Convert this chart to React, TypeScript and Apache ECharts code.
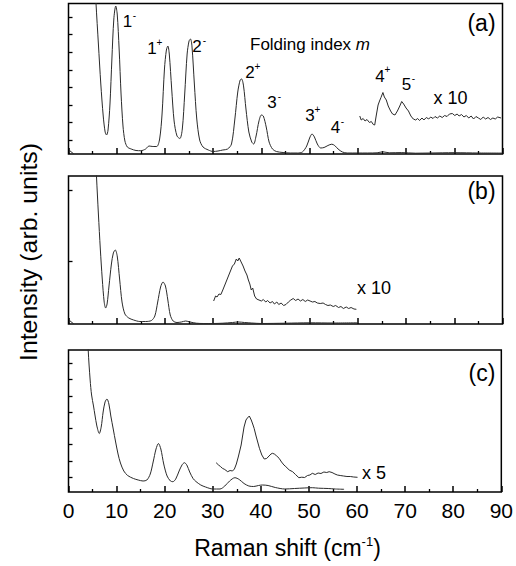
import React, { useEffect, useRef } from 'react';
import * as echarts from 'echarts';

// ---------- data (x: Raman shift cm^-1, y: intensity, arb. units) ----------
const xTickValues = [0, 10, 20, 30, 40, 50, 60, 70, 80, 90];

const spectrumA: [number, number][] = [
  [5.2, 200], [5.7, 151], [6.2, 110], [6.7, 70], [7.2, 38], [7.6, 22], [7.9, 19], [8.2, 24], [8.6, 50],
  [9.0, 95], [9.4, 135], [9.8, 148], [10.1, 140], [10.5, 105], [10.9, 60], [11.3, 28], [11.7, 13],
  [12.2, 7], [13, 5], [14, 3.5], [15, 3.3], [16, 5], [16.7, 8], [17.5, 7.5], [18.3, 7.5], [18.9, 15],
  [19.4, 40], [19.9, 85], [20.3, 104], [20.6, 108], [20.9, 100], [21.4, 65], [21.9, 33], [22.5, 18],
  [23.1, 15.5], [23.6, 25], [24.1, 60], [24.6, 100], [25.0, 113], [25.3, 115], [25.6, 108], [26.1, 70],
  [26.6, 35], [27.2, 14], [27.9, 7], [29, 4], [30, 2.5], [31, 3], [32, 4], [33, 5], [33.8, 10],
  [34.5, 35], [35.1, 62], [35.6, 74], [35.9, 75], [36.3, 68], [36.8, 45], [37.4, 22], [38.0, 12],
  [38.4, 10], [38.9, 18], [39.5, 33], [40.0, 39], [40.4, 38], [41.0, 27], [41.6, 12], [42.3, 5],
  [43.1, 2.5], [44.5, 1.5], [46, 1], [47.5, 1], [48.5, 2], [49.4, 8], [50.0, 16], [50.5, 20],
  [51.0, 17], [51.6, 10], [52.3, 6], [53.0, 6.5], [53.8, 8.5], [54.6, 9.8], [55.2, 8.5], [55.9, 5],
  [56.8, 2], [57.8, 1], [60, 1], [62, 1], [64, 1.2], [65.2, 2.2], [66.5, 1.2], [69, 1.4], [72, 0.8],
  [75, 1.0], [80, 1.3], [85, 1.0], [90, 0.9],
];
const spectrumAx10: [number, number][] = [
  [60.4, 38], [60.7, 34], [61.1, 35.5], [61.5, 33], [61.9, 34.5], [62.4, 31.5], [62.8, 32.5], [63.2, 29.5],
  [63.5, 29], [63.8, 38], [64.2, 49], [64.5, 53], [64.8, 56.5], [65.2, 61.5], [65.5, 57], [65.9, 54],
  [66.3, 48], [66.8, 43], [67.2, 40], [67.7, 39], [68.2, 43], [68.7, 48], [69.1, 52.5], [69.5, 50],
  [70.0, 46], [70.5, 43], [71.0, 38], [71.5, 35], [72.0, 34], [72.4, 35.5], [72.8, 33.5], [73.3, 36],
  [73.7, 34], [74.2, 36.5], [74.7, 35], [75.1, 37], [75.6, 35.5], [76.0, 37.5], [76.5, 36], [77.0, 38],
  [77.5, 36.5], [78.0, 38.5], [78.5, 37.5], [79.0, 40], [79.6, 40.5], [80.1, 38.5], [80.6, 40], [81.0, 38],
  [81.5, 39.5], [82.0, 37], [82.5, 38.5], [83.0, 36], [83.5, 38], [84.0, 35], [84.5, 37.5], [85.0, 36],
  [85.5, 34.5], [86.0, 37], [86.5, 35], [87.0, 36.5], [87.5, 34.5], [88.0, 36], [88.5, 35], [89.0, 37],
  [89.7, 36],
];
const cornerA: [number, number][] = [[0.1, 4], [1.1, 0]];

const spectrumB: [number, number][] = [
  [5.3, 200], [5.8, 148], [6.2, 110], [6.6, 75], [7.0, 45], [7.4, 22], [7.7, 16], [8.0, 20], [8.4, 38],
  [8.9, 60], [9.3, 71], [9.7, 74], [10.1, 68], [10.6, 45], [11.1, 22], [11.7, 10], [12.5, 6], [13.5, 4],
  [14.8, 2.5], [16, 2.5], [17.2, 3.5], [17.9, 8], [18.5, 22], [19.1, 37], [19.6, 42], [20.1, 38],
  [20.6, 24], [21.1, 9], [21.7, 3], [22.5, 1.5], [23.4, 2], [24.3, 3], [25.2, 2], [26.5, 0.8], [28, 0.5],
  [30, 0.5], [32, 0.8], [34, 1.5], [35.2, 2], [36.5, 1.5], [38, 1], [40, 0.5], [45, 0.8], [50, 1.2],
  [55, 1.0], [60, 1.2],
];
const spectrumBx10: [number, number][] = [
  [30.1, 23], [30.5, 28], [30.8, 27], [31.2, 30], [31.6, 29.5], [32.0, 34], [32.5, 40], [33.0, 46],
  [33.5, 52], [34.0, 58], [34.4, 60], [34.8, 65], [35.1, 63], [35.4, 66], [35.8, 62], [36.2, 58],
  [36.6, 53], [37.0, 49], [37.3, 44], [37.6, 40], [37.9, 34], [38.2, 36], [38.6, 28], [39.0, 25],
  [39.5, 24], [40.0, 23], [40.4, 24.5], [40.9, 22], [41.3, 23.5], [41.8, 21], [42.3, 22.5], [42.7, 20],
  [43.2, 22], [43.6, 19.5], [44.1, 21], [44.6, 18.5], [45.1, 19.5], [45.6, 22], [46.1, 24], [46.6, 25.5],
  [47.1, 23.5], [47.6, 25], [48.1, 23], [48.6, 24.5], [49.1, 22.5], [49.6, 24], [50.1, 23], [50.6, 22],
  [51.1, 22.5], [51.6, 21], [52.2, 20.5], [52.8, 21], [53.3, 19.5], [53.8, 18.5], [54.3, 19], [54.9, 17.5],
  [55.4, 18.5], [56.0, 16.5], [56.5, 17.5], [57.0, 15.5], [57.6, 17], [58.1, 15.5], [58.6, 16.5],
  [59.2, 15], [59.7, 14.7],
];
const cornerB: [number, number][] = [[0.1, 4], [1.1, 0]];

const spectrumC: [number, number][] = [
  [3.7, 200], [4.1, 142], [4.5, 112], [4.8, 97], [5.2, 86], [5.5, 77], [5.9, 66], [6.4, 58.5], [6.8, 65],
  [7.2, 80], [7.6, 90], [8.0, 93], [8.4, 88], [8.8, 76], [9.3, 63], [9.8, 50], [10.3, 38], [10.8, 29],
  [11.5, 21], [12.3, 16.5], [13.5, 13.5], [14.5, 12], [15.5, 11], [16.3, 12], [17.0, 18], [17.6, 30],
  [18.2, 43], [18.7, 48.5], [19.2, 43], [19.8, 28], [20.5, 16], [21.2, 11], [21.7, 10.3], [22.3, 13],
  [23.0, 21], [23.6, 27], [24.1, 29.3], [24.6, 27], [25.2, 20], [25.9, 13.5], [26.5, 10.5], [27.5, 7],
  [28.5, 5], [30, 3], [31.5, 3], [32.5, 6], [33.5, 11], [34.6, 14.3], [35.5, 12.5], [36.5, 8.5],
  [37.5, 6], [38.5, 5.5], [39.5, 6.5], [40.3, 7], [41.5, 6.5], [43, 4.5], [45, 3], [47, 3.5], [49, 4],
  [50.7, 4.3], [52, 3.8], [54, 3.5], [55.5, 3], [57.3, 2.7],
];
const spectrumCx5: [number, number][] = [
  [30.7, 29.3], [31.2, 27], [31.6, 25.5], [32.0, 23.7], [32.5, 22.5], [33.1, 20.3], [33.6, 21.5],
  [34.1, 21], [34.5, 23], [34.9, 28], [35.3, 35], [35.6, 41], [35.9, 47], [36.2, 56], [36.5, 65],
  [36.9, 72], [37.2, 74], [37.6, 76], [38.0, 72], [38.3, 68], [38.6, 63.7], [39.0, 56], [39.4, 49],
  [39.7, 43.7], [40.2, 37], [40.7, 33], [41.2, 33.5], [41.7, 36], [42.1, 38], [42.4, 38.7], [42.8, 38],
  [43.3, 36], [43.8, 33.7], [44.3, 30], [44.8, 27], [45.2, 25.3], [45.9, 22], [46.6, 20.3], [47.2, 17.5],
  [47.9, 14.3], [48.5, 14.8], [49.1, 14.5], [49.7, 16.5], [50.2, 17], [50.7, 18.7], [51.3, 17.5],
  [51.9, 19], [52.5, 18.5], [53.1, 20], [53.7, 19.5], [54.2, 20.3], [54.8, 19.5], [55.4, 18], [55.9, 17],
  [56.5, 16.5], [57.2, 16], [57.9, 15.5], [58.6, 15.5], [59.3, 15], [60.1, 14.7],
];

const yMaxes = [150.5, 148, 142];
const yTicksA = [13.3, 31.3, 49, 66.7, 84, 101.7, 119.3, 137];
const yTicksB = [62.3, 134];
const yTicksC = [15, 31, 48, 64, 80, 96, 113, 129];

const panelLetters = ['(a)', '(b)', '(c)'];
const peakNames = ['1', '1', '2', '2', '3', '3', '4', '4', '5'];
const peakSigns = ['-', '+', '-', '+', '-', '+', '-', '+', '-'];
const scaleNotes = ['x 10', 'x 10', 'x 5'];

// ---------- chart ----------
const FONT = '"Liberation Sans", Arial, Helvetica, sans-serif';
const INK = '#2a2a2a';

function buildOption() {
  const gridBoxes = [
    { left: 68.5, top: 3.5, width: 434, height: 150.5 },
    { left: 68.5, top: 176, width: 434, height: 148 },
    { left: 68.5, top: 350, width: 434, height: 142 },
  ];
  const yTicks = [yTicksA, yTicksB, yTicksC];

  const grid = gridBoxes.map((g) => ({
    ...g, show: true, borderColor: '#000', borderWidth: 1.5, backgroundColor: 'transparent', containLabel: false,
  }));

  const xAxis = gridBoxes.map((_, i) => ({
    type: 'value', gridIndex: i, min: xTickValues[0], max: xTickValues[xTickValues.length - 1],
    interval: xTickValues[1] - xTickValues[0],
    axisLine: { show: false }, splitLine: { show: false },
    axisTick: { show: true, inside: true, length: 6, lineStyle: { color: '#000', width: 1.5 } },
    minorTick: { show: true, splitNumber: 2, length: 3, lineStyle: { color: '#000', width: 1.3 } },
    axisLabel: { show: i === 2, color: '#000', fontSize: 21, fontFamily: FONT, margin: 8 },
  }));

  const yAxis = gridBoxes.map((_, i) => ({
    type: 'value', gridIndex: i, min: 0, max: yMaxes[i],
    axisLine: { show: false }, splitLine: { show: false }, axisLabel: { show: false },
    axisTick: { show: true, inside: true, length: 4, customValues: yTicks[i], lineStyle: { color: '#000', width: 1.3 } },
  }));

  const line = (data: [number, number][], idx: number, smooth: number | boolean) => ({
    type: 'line', xAxisIndex: idx, yAxisIndex: idx, data, showSymbol: false, symbol: 'none',
    smooth, clip: true, lineStyle: { color: INK, width: 1 }, silent: true,
  });

  const series = [
    line(spectrumA, 0, 0.3), line(spectrumAx10, 0, false), line(cornerA, 0, false),
    line(spectrumB, 1, 0.3), line(spectrumBx10, 1, false), line(cornerB, 1, false),
    line(spectrumC, 2, 0.3), line(spectrumCx5, 2, false),
  ];

  const txt = (text: string, x: number, y: number, size: number, extra: any = {}) => ({
    type: 'text', x, y, silent: true,
    style: { text, fill: '#000', font: `${size}px ${FONT}`, textAlign: 'center', textVerticalAlign: 'middle', ...extra },
  });

  const peakPos = [
    [127.5, 21, 134.5, 15], [152, 48, 159.5, 42], [197, 46, 204.5, 40], [250, 72, 257.5, 66],
    [272, 102, 279.5, 96], [310, 115, 317.5, 109], [335.5, 127, 342.5, 121], [380, 76, 387.5, 69],
    [406.5, 84, 413.5, 78],
  ];
  const graphic: any[] = [];
  peakNames.forEach((n, k) => {
    const [x, y, sx, sy] = peakPos[k];
    graphic.push(txt(n, x, y, 17));
    graphic.push(txt(peakSigns[k], sx, sy, 10));
  });
  graphic.push({
    type: 'text', x: 250, y: 44, silent: true,
    style: {
      text: '{n|Folding index }{i|m}', textAlign: 'left', textVerticalAlign: 'middle', fill: '#000',
      rich: {
        n: { fontSize: 17, fontFamily: FONT, fill: '#000' },
        i: { fontSize: 17, fontFamily: FONT, fontStyle: 'italic', fill: '#000' },
      },
    },
  });
  const letterPos = [[481.5, 23], [481.5, 191], [482, 373]];
  panelLetters.forEach((t, k) => graphic.push(txt(t, letterPos[k][0], letterPos[k][1], 23)));
  const notePos = [[450.5, 97.5], [374, 288], [374, 473]];
  scaleNotes.forEach((t, k) => graphic.push(txt(t, notePos[k][0], notePos[k][1], 18)));

  // axis titles
  graphic.push({
    type: 'text', x: 29, y: 252, rotation: Math.PI / 2, scaleX: 1.08, silent: true,
    style: { text: 'Intensity (arb. units)', fill: '#000', font: `23px ${FONT}`, textAlign: 'center', textVerticalAlign: 'middle' },
  });
  graphic.push({
    type: 'text', x: 287.5, y: 548, silent: true,
    style: {
      text: '{n|Raman shift (cm}{s|-1}{n|)}', fill: '#000', textAlign: 'center', textVerticalAlign: 'middle',
      rich: {
        n: { fontSize: 23, fontFamily: FONT, fill: '#000', lineHeight: 26 },
        s: { fontSize: 13, fontFamily: FONT, fill: '#000', verticalAlign: 'top', lineHeight: 26 },
      },
    },
  });

  return {
    animation: false,
    backgroundColor: '#fff',
    grid, xAxis, yAxis, series, graphic,
  };
}

export default function App() {
  const ref = useRef<HTMLDivElement>(null);
  useEffect(() => {
    if (!ref.current) return;
    const chart = echarts.init(ref.current, undefined, { renderer: 'svg' });
    chart.setOption(buildOption() as any);
    return () => chart.dispose();
  }, []);
  return (
    <div
      ref={ref}
      style={{ position: 'absolute', left: 0, top: 0, width: 516, height: 566, background: '#fff' }}
    />
  );
}
